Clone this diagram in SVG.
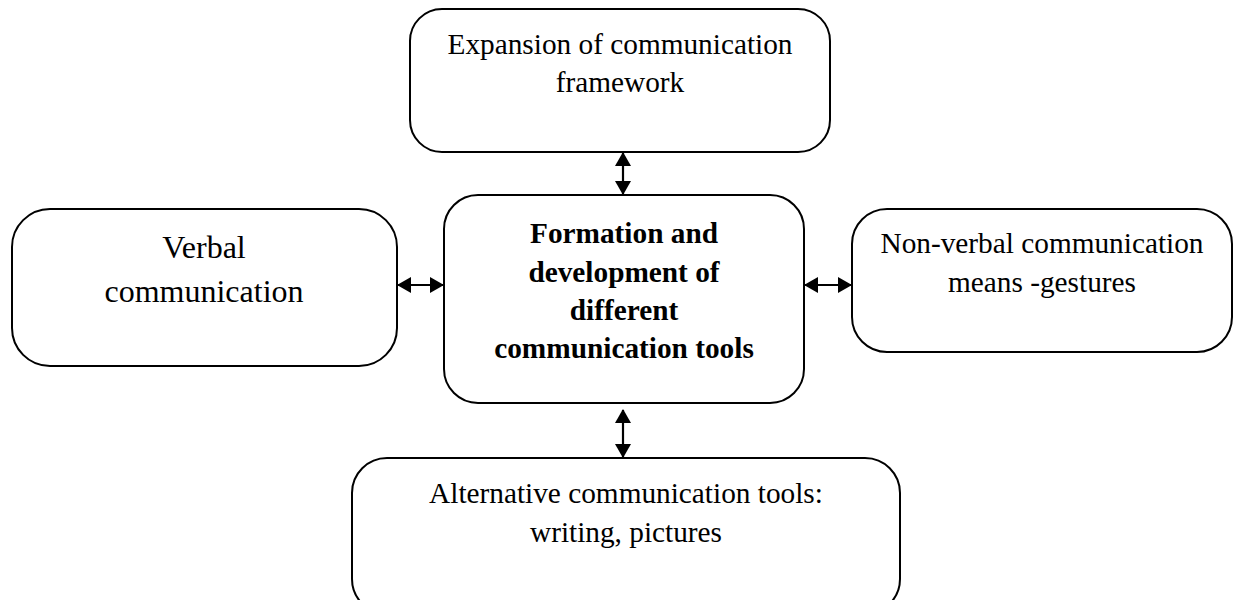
<svg xmlns="http://www.w3.org/2000/svg" width="1238" height="600" viewBox="0 0 1238 600">
<style>
.box{fill:#fff;stroke:#000;stroke-width:2}
.t{font-family:"Liberation Serif","Times New Roman",serif;font-size:29.3px;fill:#000;text-anchor:middle}
.b{font-weight:bold}
.conn{stroke:#000;stroke-width:2.2;fill:none}
</style>
<defs>
<marker id="ah" viewBox="0 0 14 16" refX="13" refY="8" markerWidth="14" markerHeight="16" markerUnits="userSpaceOnUse" orient="auto-start-reverse">
<path d="M0,0 L14,8 L0,16 Z" fill="#000"/>
</marker>
</defs>
<rect width="1238" height="600" fill="#fff"/>
<g id="top">
<rect class="box" x="410" y="9" width="420" height="143" rx="32"/>
<text class="t" x="620" y="54">Expansion of communication</text>
<text class="t" x="620" y="92">framework</text>
</g>
<g id="center">
<rect class="box" x="444" y="195" width="360" height="208" rx="34"/>
<text class="t b" x="624" y="243">Formation and</text>
<text class="t b" x="624" y="282">development of</text>
<text class="t b" x="624" y="320">different</text>
<text class="t b" x="624" y="358">communication tools</text>
</g>
<g id="left">
<rect class="box" x="12" y="209" width="385" height="157" rx="38"/>
<text class="t" style="font-size:32px" x="204" y="258">Verbal</text>
<text class="t" style="font-size:32px" x="204" y="302">communication</text>
</g>
<g id="right">
<rect class="box" x="852" y="209" width="380" height="143" rx="35"/>
<text class="t" x="1042" y="253">Non-verbal communication</text>
<text class="t" x="1042" y="292">means -gestures</text>
</g>
<g id="bottom">
<rect class="box" x="352" y="458" width="548" height="156" rx="35"/>
<text class="t" x="626" y="503">Alternative communication tools:</text>
<text class="t" x="626" y="542">writing, pictures</text>
</g>
<g id="connectors">
<line class="conn" x1="623" y1="153" x2="623" y2="194" marker-start="url(#ah)" marker-end="url(#ah)"/>
<line class="conn" x1="398" y1="285" x2="443" y2="285" marker-start="url(#ah)" marker-end="url(#ah)"/>
<line class="conn" x1="805" y1="285" x2="851" y2="285" marker-start="url(#ah)" marker-end="url(#ah)"/>
<line class="conn" x1="623" y1="410" x2="623" y2="457" marker-start="url(#ah)" marker-end="url(#ah)"/>
</g>
</svg>
